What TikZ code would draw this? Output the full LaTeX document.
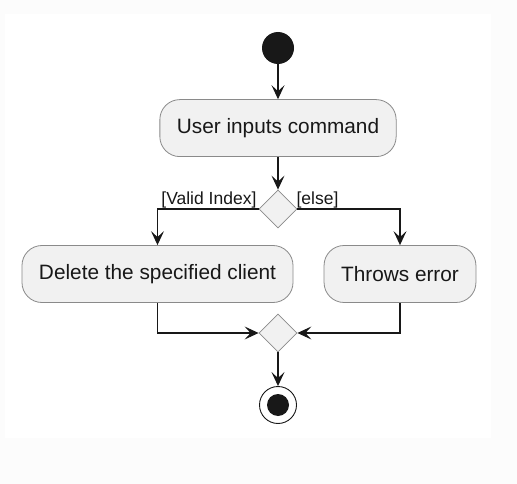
\documentclass[tikz,border=0pt]{standalone}
\usepackage{fontspec}
\setmainfont{Liberation Sans}
\usepackage{xcolor}
\usetikzlibrary{shapes.geometric, arrows.meta, positioning}

\definecolor{actfill}{HTML}{F1F1F1}
\definecolor{actline}{HTML}{8A8A8A}
\definecolor{inkdark}{HTML}{181818}

\begin{document}
\begin{tikzpicture}[
    x=1pt, y=1pt,
    activity/.style={draw=actline, line width=0.8pt, rectangle, rounded corners=20pt, fill=actfill, align=center, inner xsep=17pt, minimum height=57pt, text=inkdark, font=\fontsize{20.8}{24}\selectfont},
    decision/.style={draw=actline, line width=0.8pt, diamond, fill=actfill, minimum width=38pt, minimum height=38pt, inner sep=0pt},
    guard/.style={inner sep=0pt, text=inkdark, font=\fontsize{17.5}{20}\selectfont},
    startdot/.style={circle, fill=inkdark, minimum size=32pt, inner sep=0pt},
    enddot/.style={circle, draw=inkdark, line width=0.9pt, fill=white, minimum size=37pt, inner sep=0pt,
        path picture={\fill[inkdark] (path picture bounding box.center) circle (11pt);}},
    arrow/.style={-{Stealth[length=14pt, width=13pt, inset=6pt]}, line width=1.1pt, draw=inkdark}
]

% page and white sheet
\fill[black!1] (0,0) rectangle (517,-484);
\fill[white] (5,-14) rectangle (491,-438);
\useasboundingbox (0,0) rectangle (517,-484);

\node (start) [startdot] at (278,-48) {};
\node (input) [activity, below=35pt of start] {User inputs command};
\node (check) [decision] at (278,-209) {};
\node (delete) [activity] at (157.5,-274) {Delete the specified client};
\node (error) [activity] at (400,-274) {Throws error};
\node (merge) [decision] at (278,-333) {};
\node (stop) [enddot] at (278,-405) {};

\node (validlbl) [guard, anchor=base east] at ([shift={(-2pt,4.5pt)}]check.west) {[Valid Index]};
\node (elselbl) [guard, anchor=base west] at ([shift={(-1pt,4.5pt)}]check.east) {[else]};

\draw [arrow] (start) -- (input);
\draw [arrow] (input) -- (check);
\draw [arrow] (check.west) -| (delete.north);
\draw [arrow] (check.east) -| (error.north);
\draw [arrow] (delete.south) |- (merge.west);
\draw [arrow] (error.south) |- (merge.east);
\draw [arrow] (merge) -- (stop);

\end{tikzpicture}
\end{document}
